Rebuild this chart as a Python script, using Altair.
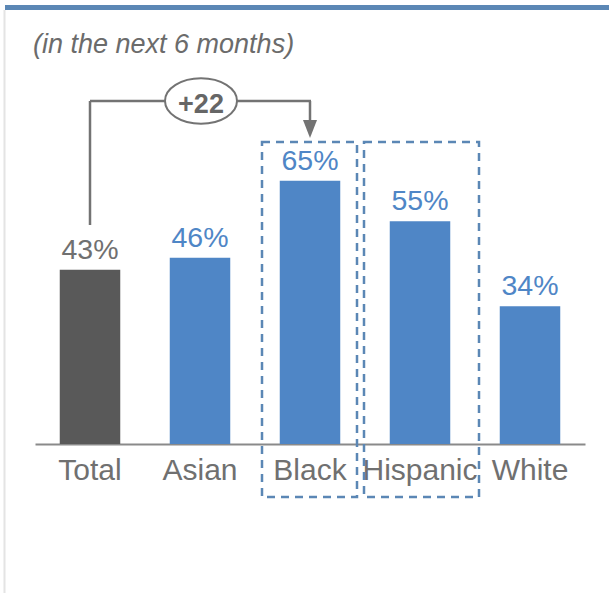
import altair as alt
import pandas as pd

categories = ["Total", "Asian", "Black", "Hispanic", "White"]
values = [43, 46, 65, 55, 34]
bar_colors = ["#595959", "#4f86c6", "#4f86c6", "#4f86c6", "#4f86c6"]
label_colors = ["#707070", "#4f86c6", "#4f86c6", "#4f86c6", "#4f86c6"]
labels = ["43%", "46%", "65%", "55%", "34%"]
title_text = "(in the next 6 months)"
diff_text = "+22"

FONT = "Liberation Sans"
GREY = "#737373"
BOXBLUE = "#5b87b5"

df = pd.DataFrame({
    "cat": categories,
    "val": values,
    "bar_color": bar_colors,
    "label_color": label_colors,
    "label": labels,
})

x_enc = alt.X(
    "cat:N",
    sort=categories,
    scale=alt.Scale(paddingInner=0.45, paddingOuter=0.225),
    axis=alt.Axis(
        title=None,
        labelAngle=0,
        labelFont=FONT,
        labelFontSize=30,
        labelColor="#707070",
        labelPadding=11,
        ticks=False,
        tickSize=0,
        domainColor="#8a8a8a",
        domainWidth=2,
        grid=False,
    ),
)
y_enc = alt.Y("val:Q", scale=alt.Scale(domain=[0, 100]), axis=None)

base = alt.Chart(df)

bars = base.mark_bar().encode(
    x=x_enc, y=y_enc, color=alt.Color("bar_color:N", scale=None)
)

value_labels = base.mark_text(
    font=FONT, fontSize=28.5, baseline="alphabetic", align="center", dy=-11
).encode(
    x=alt.X("cat:N", sort=categories),
    y=alt.Y("val:Q"),
    text="label:N",
    color=alt.Color("label_color:N", scale=None),
)

one = pd.DataFrame({"k": [0]})
deco = alt.Chart(one)

top_bar = deco.mark_rect(color="#5b87b5").encode(
    x=alt.value(-30), x2=alt.value(574), y=alt.value(-34), y2=alt.value(-29)
)
left_border = deco.mark_rect(color="#e4e4e4").encode(
    x=alt.value(-31.5), x2=alt.value(-29.5), y=alt.value(-29), y2=alt.value(554)
)
title = deco.mark_text(
    text=title_text, font=FONT, fontSize=27, fontStyle="italic",
    color="#6b6b6b", align="left", baseline="alphabetic"
).encode(x=alt.value(-2), y=alt.value(14))

box_black = deco.mark_rect(
    filled=False, stroke=BOXBLUE, strokeWidth=2.5, strokeDash=[8, 6]
).encode(x=alt.value(227), x2=alt.value(322), y=alt.value(103), y2=alt.value(458))
box_hisp = deco.mark_rect(
    filled=False, stroke=BOXBLUE, strokeWidth=2.5, strokeDash=[8, 6]
).encode(x=alt.value(329), x2=alt.value(444), y=alt.value(103), y2=alt.value(458))

v1 = deco.mark_rule(color=GREY, strokeWidth=2.5).encode(
    x=alt.value(55), y=alt.value(186), y2=alt.value(62)
)
h1 = deco.mark_rule(color=GREY, strokeWidth=2.5).encode(
    x=alt.value(55), x2=alt.value(276), y=alt.value(62)
)
v2 = deco.mark_rule(color=GREY, strokeWidth=2.5).encode(
    x=alt.value(275), y=alt.value(62), y2=alt.value(84)
)
arrow = deco.mark_point(
    shape="M -1 -1.3 L 1 -1.3 L 0 1.3 Z", size=196, filled=True,
    color=GREY, opacity=1
).encode(x=alt.value(275), y=alt.value(90))
ellipse = deco.mark_point(
    shape="M -1 0 A 1 0.63 0 1 1 1 0 A 1 0.63 0 1 1 -1 0 Z", size=5184,
    filled=True, fill="white", stroke=GREY, strokeWidth=2, opacity=1
).encode(x=alt.value(166), y=alt.value(62))
diff_label = deco.mark_text(
    text=diff_text, font=FONT, fontSize=27, fontWeight="bold",
    color="#666666", align="center", baseline="alphabetic"
).encode(x=alt.value(166), y=alt.value(74))

chart = alt.layer(
    top_bar, left_border, title, bars, value_labels,
    box_black, box_hisp, v1, h1, v2, arrow, ellipse, diff_label
).properties(
    width=550, height=405,
    autosize=alt.AutoSizeParams(type="none"),
    padding={"left": 35, "top": 39, "right": 24, "bottom": 149},
    background="white",
).configure_view(stroke=None)

chart.save("out.html", embed_options={"renderer": "svg", "actions": False})
